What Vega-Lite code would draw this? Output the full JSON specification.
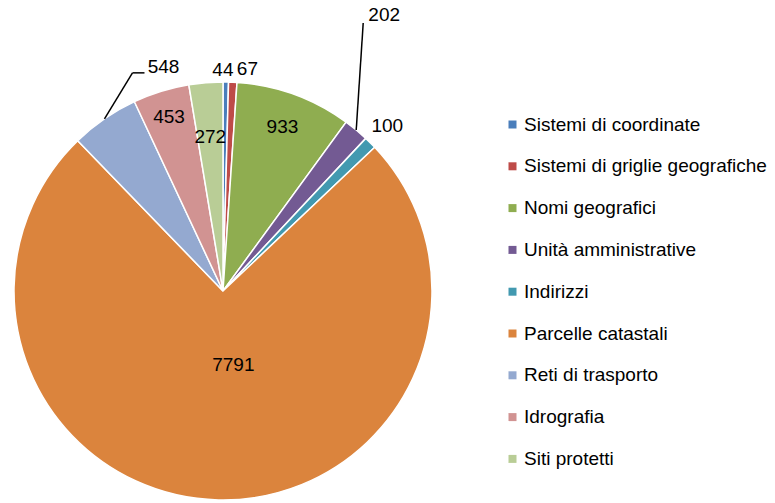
{
  "$schema": "https://vega.github.io/schema/vega-lite/v6.json",
  "autosize": {"type": "none"},
  "padding": {"left": 14, "top": 82, "right": 343, "bottom": 3},
  "width": 418,
  "height": 418,
  "background": "white",
  "config": {"view": {"stroke": null}, "text": {"font": "Liberation Sans", "fontSize": 19, "color": "black"}},
  "data": {"values": [
    {"idx": 1, "cat": "Sistemi di coordinate", "value": 44},
    {"idx": 2, "cat": "Sistemi di griglie geografiche", "value": 67},
    {"idx": 3, "cat": "Nomi geografici", "value": 933},
    {"idx": 4, "cat": "Unità amministrative", "value": 202},
    {"idx": 5, "cat": "Indirizzi", "value": 100},
    {"idx": 6, "cat": "Parcelle catastali", "value": 7791},
    {"idx": 7, "cat": "Reti di trasporto", "value": 548},
    {"idx": 8, "cat": "Idrografia", "value": 453},
    {"idx": 9, "cat": "Siti protetti", "value": 272}
  ]},
  "layer": [
    {
      "mark": {"type": "arc", "stroke": "white", "strokeWidth": 1.5},
      "encoding": {
        "theta": {"field": "value", "type": "quantitative", "stack": true},
        "order": {"field": "idx", "type": "quantitative"},
        "color": {
          "field": "cat", "type": "nominal",
          "scale": {
            "domain": ["Sistemi di coordinate", "Sistemi di griglie geografiche", "Nomi geografici", "Unità amministrative", "Indirizzi", "Parcelle catastali", "Reti di trasporto", "Idrografia", "Siti protetti"],
            "range": ["#4A7EBB", "#BE4B48", "#8FAD50", "#735A93", "#4299B0", "#DB843D", "#94A9D0", "#D19392", "#B9CD96"]
          },
          "legend": {
            "orient": "none", "legendX": 489, "legendY": 33, "title": null,
            "labelFont": "Liberation Sans", "labelFontSize": 19, "labelColor": "black", "labelLimit": 400,
            "symbolType": "square", "symbolSize": 64, "symbolStrokeWidth": 0,
            "rowPadding": 21.8, "labelOffset": 2, "padding": 0
          }
        }
      }
    },
    {
      "mark": {"type": "text", "radius": 74, "dx": 12, "font": "Liberation Sans", "fontSize": 19},
      "encoding": {
        "theta": {"field": "value", "type": "quantitative", "stack": true},
        "order": {"field": "idx", "type": "quantitative"},
        "text": {"condition": {"test": "datum.idx == 6", "field": "value", "type": "quantitative"}, "value": ""}
      }
    },
    {
      "mark": {"type": "text", "radius": 174, "font": "Liberation Sans", "fontSize": 19},
      "encoding": {
        "theta": {"field": "value", "type": "quantitative", "stack": true},
        "order": {"field": "idx", "type": "quantitative"},
        "text": {"condition": {"test": "datum.idx == 3", "field": "value", "type": "quantitative"}, "value": ""}
      }
    },
    {
      "mark": {"type": "text", "radius": 182, "font": "Liberation Sans", "fontSize": 19},
      "encoding": {
        "theta": {"field": "value", "type": "quantitative", "stack": true},
        "order": {"field": "idx", "type": "quantitative"},
        "text": {"condition": {"test": "datum.idx == 8", "field": "value", "type": "quantitative"}, "value": ""}
      }
    },
    {
      "mark": {"type": "text", "radius": 155, "font": "Liberation Sans", "fontSize": 19},
      "encoding": {
        "theta": {"field": "value", "type": "quantitative", "stack": true},
        "order": {"field": "idx", "type": "quantitative"},
        "text": {"condition": {"test": "datum.idx == 9", "field": "value", "type": "quantitative"}, "value": ""}
      }
    },
    {
      "mark": {"type": "text", "radius": 221, "dx": -3, "font": "Liberation Sans", "fontSize": 19},
      "encoding": {
        "theta": {"field": "value", "type": "quantitative", "stack": true},
        "order": {"field": "idx", "type": "quantitative"},
        "text": {"condition": {"test": "datum.idx == 1", "field": "value", "type": "quantitative"}, "value": ""}
      }
    },
    {
      "mark": {"type": "text", "radius": 222, "dx": 14, "font": "Liberation Sans", "fontSize": 19},
      "encoding": {
        "theta": {"field": "value", "type": "quantitative", "stack": true},
        "order": {"field": "idx", "type": "quantitative"},
        "text": {"condition": {"test": "datum.idx == 2", "field": "value", "type": "quantitative"}, "value": ""}
      }
    },
    {
      "mark": {"type": "text", "radius": 233, "font": "Liberation Sans", "fontSize": 19},
      "encoding": {
        "theta": {"field": "value", "type": "quantitative", "stack": true},
        "order": {"field": "idx", "type": "quantitative"},
        "text": {"condition": {"test": "datum.idx == 5", "field": "value", "type": "quantitative"}, "value": ""}
      }
    },
    {
      "mark": {"type": "text", "radius": 209, "dx": 28, "dy": -115, "font": "Liberation Sans", "fontSize": 19},
      "encoding": {
        "theta": {"field": "value", "type": "quantitative", "stack": true},
        "order": {"field": "idx", "type": "quantitative"},
        "text": {"condition": {"test": "datum.idx == 4", "field": "value", "type": "quantitative"}, "value": ""}
      }
    },
    {
      "mark": {"type": "text", "radius": 209, "dx": 59, "dy": -52, "font": "Liberation Sans", "fontSize": 19},
      "encoding": {
        "theta": {"field": "value", "type": "quantitative", "stack": true},
        "order": {"field": "idx", "type": "quantitative"},
        "text": {"condition": {"test": "datum.idx == 7", "field": "value", "type": "quantitative"}, "value": ""}
      }
    },
    {
      "transform": [
        {"joinaggregate": [{"op": "sum", "field": "value", "as": "total"}]},
        {"window": [{"op": "sum", "field": "value", "as": "cum"}], "sort": [{"field": "idx"}], "frame": [null, 0]},
        {"calculate": "(datum.cum - datum.value / 2) / datum.total * 2 * PI", "as": "ang"},
        {"calculate": "209 * sin(datum.ang)", "as": "ax"},
        {"calculate": "209 * cos(datum.ang)", "as": "ay"},
        {"filter": "datum.idx == 4 || datum.idx == 7"},
        {"calculate": "datum.ax + (datum.idx == 4 ? 7 : 28)", "as": "bx"},
        {"calculate": "datum.ay + (datum.idx == 4 ? 107 : 46)", "as": "by"}
      ],
      "mark": {"type": "rule", "color": "black", "strokeWidth": 1.5},
      "encoding": {
        "x": {"field": "ax", "type": "quantitative", "scale": {"domain": [-209, 209], "nice": false, "zero": false}, "axis": null},
        "y": {"field": "ay", "type": "quantitative", "scale": {"domain": [-209, 209], "nice": false, "zero": false}, "axis": null},
        "x2": {"field": "bx"},
        "y2": {"field": "by"}
      }
    },
    {
      "transform": [
        {"joinaggregate": [{"op": "sum", "field": "value", "as": "total"}]},
        {"window": [{"op": "sum", "field": "value", "as": "cum"}], "sort": [{"field": "idx"}], "frame": [null, 0]},
        {"calculate": "(datum.cum - datum.value / 2) / datum.total * 2 * PI", "as": "ang"},
        {"filter": "datum.idx == 7"},
        {"calculate": "209 * sin(datum.ang) + 28", "as": "bx"},
        {"calculate": "209 * cos(datum.ang) + 46", "as": "by"},
        {"calculate": "datum.bx + 12", "as": "cx"}
      ],
      "mark": {"type": "rule", "color": "black", "strokeWidth": 1.5},
      "encoding": {
        "x": {"field": "bx", "type": "quantitative", "scale": {"domain": [-209, 209], "nice": false, "zero": false}, "axis": null},
        "y": {"field": "by", "type": "quantitative", "scale": {"domain": [-209, 209], "nice": false, "zero": false}, "axis": null},
        "x2": {"field": "cx"},
        "y2": {"field": "by"}
      }
    }
  ]
}
